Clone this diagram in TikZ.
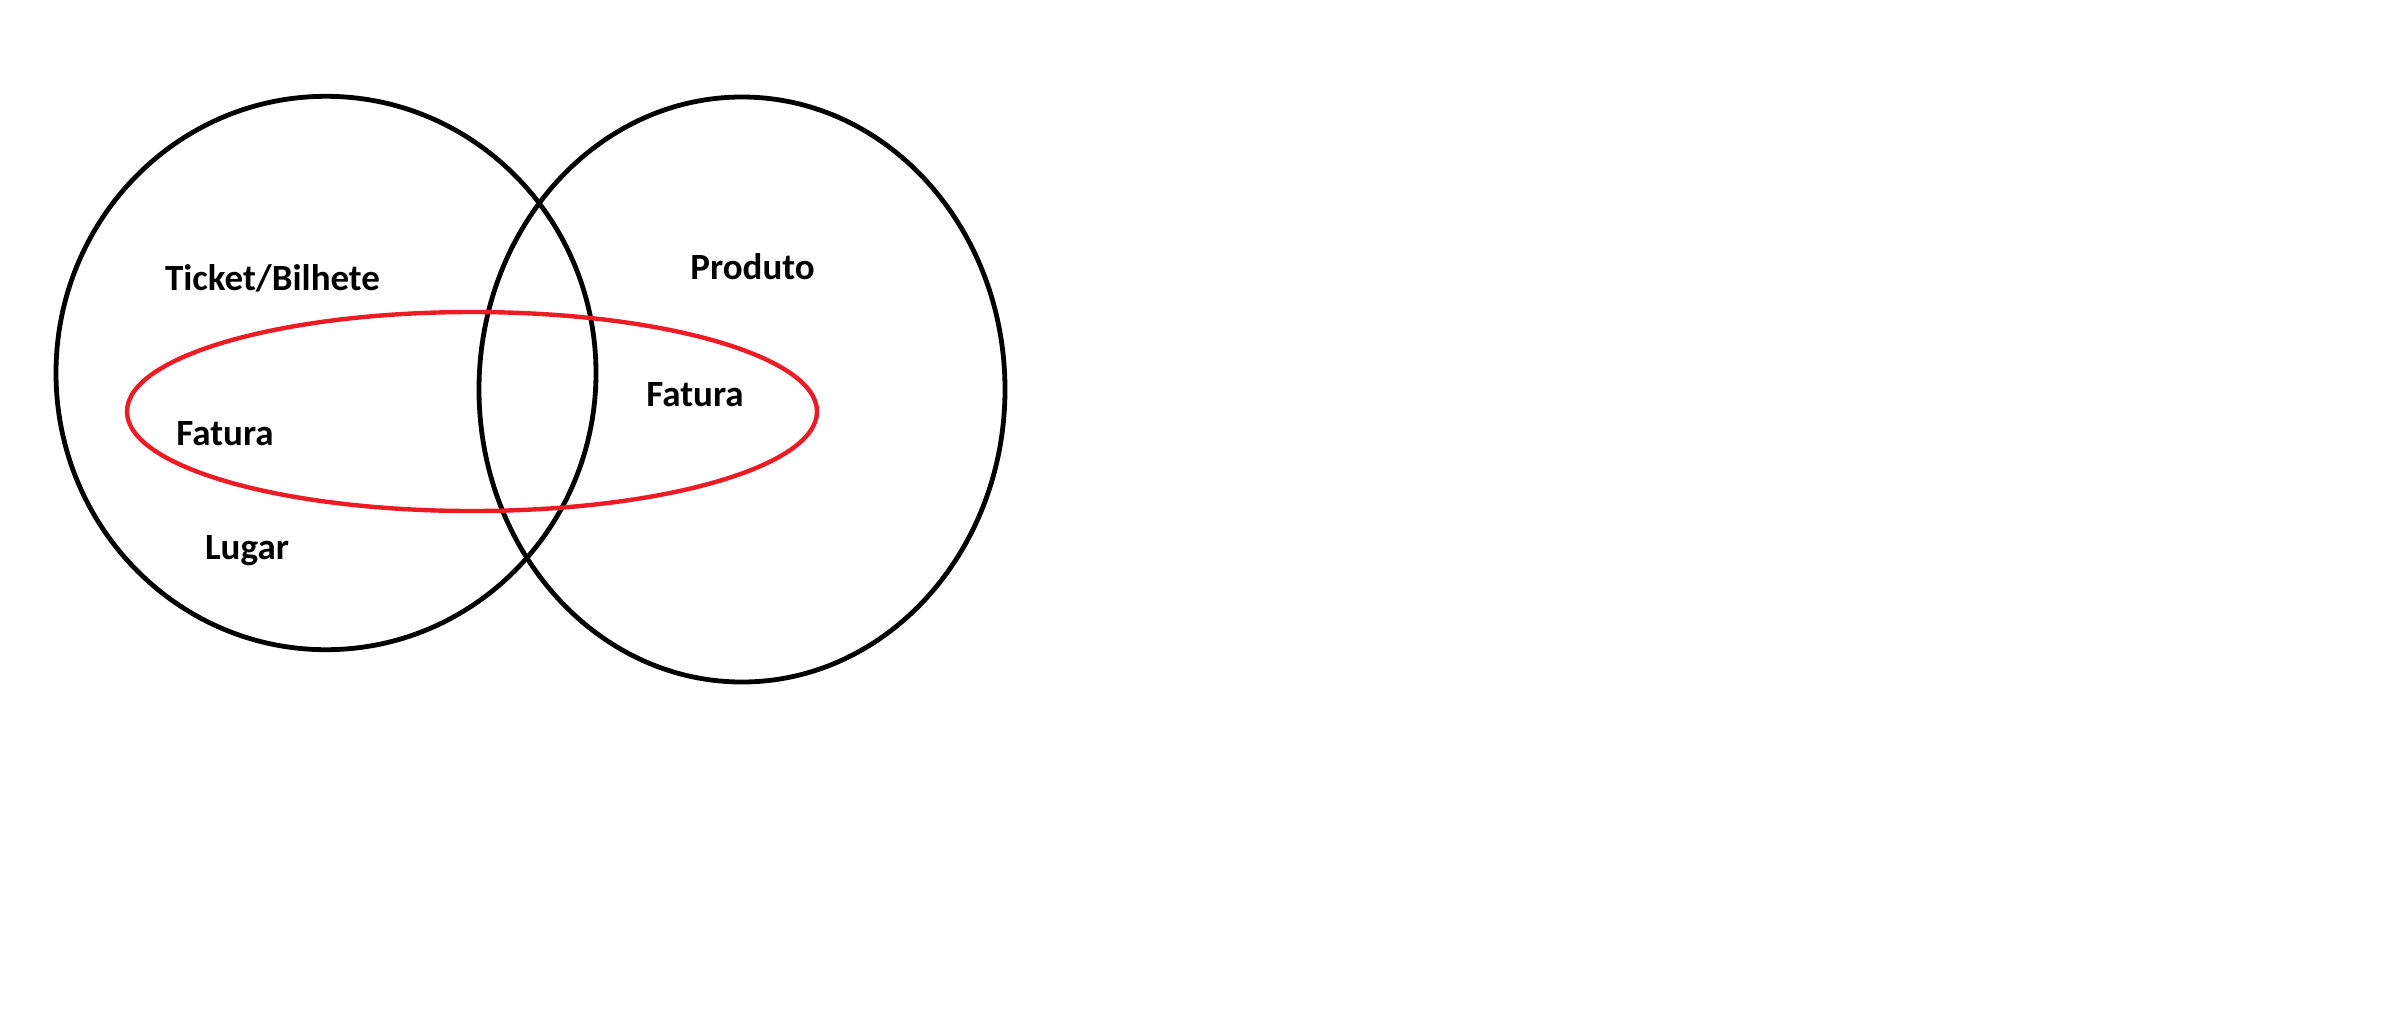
\documentclass[tikz,border=0pt]{standalone}
\usepackage{fontspec}
\setmainfont{Carlito}
\definecolor{vennred}{RGB}{237,28,36}
\begin{document}
\begin{tikzpicture}[x=0.5pt,y=-0.5pt,
  setline/.style={draw=black,line width=2.4pt},
  redline/.style={draw=vennred,line width=2.2pt},
  lbl/.style={anchor=base,inner sep=0pt,font=\fontsize{18.5pt}{21pt}\selectfont\bfseries}]
\useasboundingbox (0,0) rectangle (2390,1024);
\draw[setline] (326,373) ellipse [x radius=135pt, y radius=138.35pt];
\draw[setline] (742,389.5) ellipse [x radius=131.5pt, y radius=146.25pt];
\draw[redline] (472,411.5) ellipse [x radius=172.5pt, y radius=49.75pt];
\node[lbl] (ticket) at (272.5,290) {Ticket/Bilhete};
\node[lbl] (produto) at (752.6,279.6) {Produto};
\node[lbl] (faturaL) at (225,445) {Fatura};
\node[lbl] (faturaR) at (695,406) {Fatura};
\node[lbl] (lugar) at (247,559) {Lugar};
\end{tikzpicture}
\end{document}
